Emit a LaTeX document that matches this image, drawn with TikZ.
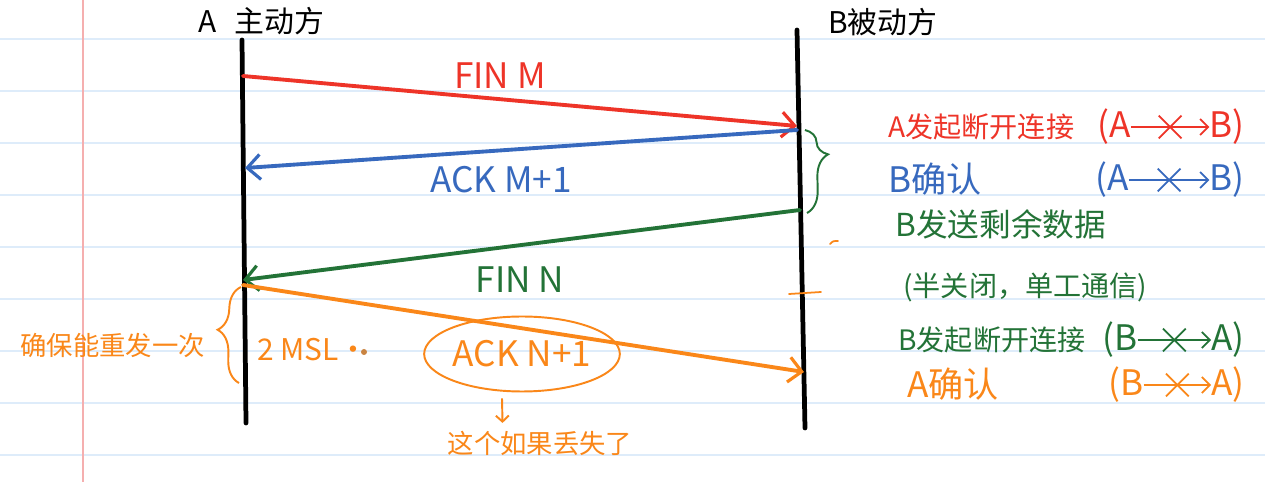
\documentclass[tikz,border=0pt]{standalone}
\usepackage{fontspec}
\setmainfont{Noto Sans CJK SC}
\usetikzlibrary{arrows.meta,shapes.geometric,shapes.misc,decorations.pathreplacing}

\definecolor{finred}{RGB}{238,52,40}
\definecolor{ackblue}{RGB}{55,105,190}
\definecolor{fingreen}{RGB}{35,115,55}
\definecolor{ackorange}{RGB}{250,135,25}
\definecolor{ruleblue}{RGB}{222,236,250}
\definecolor{marginred}{RGB}{245,175,175}

\newcommand{\handsize}[1]{\fontsize{#1}{#1}\selectfont}

\tikzset{
  lifeline/.style={line width=2.7pt, black, line cap=round},
  msg/.style={line width=2.2pt, line cap=round,
              -{Straight Barb[length=2.6mm, width=5mm, line width=1.8pt]}},
  msglabel/.style={inner sep=0pt, font=\handsize{20pt}},
  note/.style={inner sep=0pt, anchor=west, font=\handsize{16pt}},
  paren/.style={inner sep=0pt, font=\handsize{20pt}},
  xarrow/.style={line width=1pt, -{Straight Barb[length=1.6mm, width=3.2mm]}},
  xmark/.style={cross out, line width=1pt, minimum size=12pt, inner sep=0pt},
  handbrace/.style={line width=1.1pt, decorate}
}

\begin{document}
\begin{tikzpicture}[x=0.02cm, y=-0.02cm]
                      \useasboundingbox (0,0) rectangle (1265,482);
                      \fill[white] (0,0) rectangle (1265,482);

                      % ruled paper
                      \foreach \k in {0,...,8} {
                              \draw[ruleblue, line width=0.8pt] (0,39+52*\k) -- (1265,39+52*\k);
                          }
                      \draw[marginred, line width=0.8pt] (83,0) -- (83,482);

                      % lifelines
                      \node[anchor=west, inner sep=0pt, font=\handsize{17pt}] (Alab) at (198,21) {A\hspace{0.6em}主动方};
                      \node[anchor=west, inner sep=0pt, font=\handsize{17pt}] (Blab) at (828,22) {B被动方};
                      \coordinate (Atop) at (242,40);
                      \coordinate (Abot) at (246,423);
                      \coordinate (Btop) at (797,30);
                      \coordinate (Bbot) at (805,428);
                      \draw[lifeline] (Atop) -- (Abot);
                      \draw[lifeline] (Btop) -- (Bbot);

                      % messages
                      \coordinate (a1) at (243,76);
                      \coordinate (b1) at (797,126);
                      \coordinate (b2) at (797,130);
                      \coordinate (a2) at (245,168);
                      \coordinate (b3) at (800,210);
                      \coordinate (a3) at (243,280);
                      \coordinate (a4) at (243,285);
                      \coordinate (b4) at (804,372);

                      \foreach \i/\j/\col in {a1/b1/finred, b2/a2/ackblue, b3/a3/fingreen, a4/b4/ackorange} {
                              \draw[msg, draw=\col] (\i) -- (\j);
                          }

                      \node[msglabel, text=finred] (finM) at (500,76) {FIN M};
                      \node[msglabel, text=ackblue] (ackM) at (501,180) {ACK M+1};
                      \node[msglabel, text=fingreen] (finN) at (520,280) {FIN N};
                      \node[msglabel, text=ackorange, draw=ackorange, line width=1.1pt, ellipse,
                            minimum width=3.6cm, minimum height=1.5cm] (ackN) at (522,354) {ACK N+1};
                      \node[inner sep=0pt, text=ackorange, font=\handsize{15pt}] (lost) at (540,443) {这个如果丢失了};
                      \draw[ackorange, line width=1.1pt, -{Straight Barb[length=1.2mm, width=2.6mm]}]
                            ([xshift=-0.4cm, yshift=-0.12cm]ackN.south) -- ([xshift=-0.75cm, yshift=0.15cm]lost.north);

                      % braces
                      \draw[handbrace, fingreen, decoration={brace, amplitude=0.45cm, aspect=0.3}] (805,130) -- (807,213);
                      \draw[handbrace, ackorange, decoration={brace, amplitude=0.45cm, aspect=0.55}] (239,383) -- (241,287);
                      \node[inner sep=0pt, anchor=west, text=ackorange, font=\handsize{15pt}] (resend) at (20,345) {确保能重发一次};
                      \node[inner sep=0pt, anchor=west, text=ackorange, font=\handsize{17pt}] (msl) at (257,350) {2 MSL·};
                      \fill[ackorange!60!gray] (364,352) circle (3);

                      % stray marks
                      \draw[ackorange, line width=1pt, line cap=round] (830,244) .. controls (833,241) .. (838,241);
                      \draw[ackorange, line width=1pt, line cap=round] (789,294) -- (821,292);

                      % notes
                      \node[note, text=finred] (n1) at (888,127) {A发起断开连接};
                      \node[note, text=ackblue, font=\handsize{20pt}] (n2) at (888,179) {B确认};
                      \node[note, text=fingreen, font=\handsize{18pt}] (n3) at (895,224) {B发送剩余数据};
                      \node[note, text=fingreen] (n4) at (903,287) {(半关闭，单工通信)};
                      \node[note, text=fingreen] (n5) at (898,340) {B发起断开连接};
                      \node[note, text=ackorange, font=\handsize{20pt}] (n6) at (907,384) {A确认};

                      \foreach \n/\x/\y/\col/\p/\q in {1/1097/127/finred/A/B, 2/1095/180/ackblue/A/B,
                                                     5/1102/340/fingreen/B/A, 6/1108/385/ackorange/B/A} {
                              \node[paren, text=\col, anchor=west] (l\n) at (\x,\y) {(\p};
                              \node[paren, text=\col, anchor=east] (r\n) at (1245,\y) {\q)};
                              \draw[xarrow, draw=\col] (l\n) -- node[xmark, draw=\col] {} (r\n);
                          }
                  \end{tikzpicture}
\end{document}
